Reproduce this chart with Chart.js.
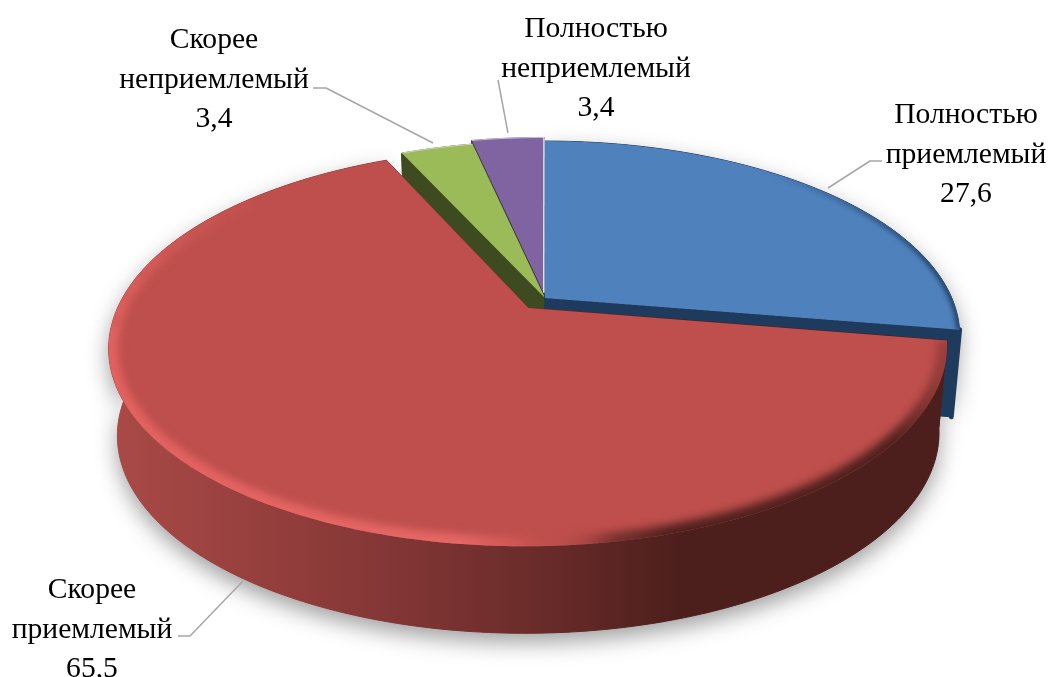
<!DOCTYPE html>
<html>
<head>
<meta charset="utf-8">
<style>
  html, body { margin: 0; padding: 0; background: #fff; overflow: hidden; }
  canvas { display: block; }
</style>
<script src="https://cdn.jsdelivr.net/npm/chart.js@4"></script>
</head>
<body>
<canvas id="pieChart" width="1048" height="677"></canvas>
<script>
var categories = ['Полностью приемлемый', 'Скорее приемлемый', 'Скорее неприемлемый', 'Полностью неприемлемый'];
var shares = [27.6, 65.5, 3.4, 3.4];

var topColors = ['#4f81bd', '#be4f4c', '#9bbb59', '#8064a2'];
var wallColors = ['#1e3a5c', null, '#3e4a20', '#3a2d52'];
var sliceOffsets = [0, 19, 0, 8];
var drawOrder = [3, 2, 0, 1];

// label placement: centre x and first baseline, then the leader line
var labelSpots = [[966, 123], [92, 598], [214, 48], [596, 37]];
var leaders = [
    [[828, 188], [870, 161], [882, 161]],
    [[243, 581], [190, 636], [178, 636]],
    [[433, 143], [326, 88], [313, 88]],
    [[508, 133], [498, 80]]
];

// tilt of the pie
var viewX = 1.41, viewY = 0.65, persp = 0.195, thick = 87, taper = 0.02;

function project(arc, u, v, z) {
    var d = 1 - persp * v;
    var r = arc.outerRadius;
    return {
        x: arc.x + r * viewX * u / d * (1 - taper * z),
        y: arc.y + r * viewY * v / d + thick * z
    };
}

function shift(arc) {
    var mid = (arc.startAngle + arc.endAngle) / 2;
    var k = arc.options.offset / arc.outerRadius;
    return { u: Math.cos(mid) * k, v: Math.sin(mid) * k };
}

function rimPoints(arc, z, from, to) {
    var s = shift(arc), pts = [];
    var a0 = from === undefined ? arc.startAngle : from;
    var a1 = to === undefined ? arc.endAngle : to;
    var n = Math.max(4, Math.ceil((a1 - a0) * 60));
    for (var i = 0; i <= n; i++) {
        var a = a0 + (a1 - a0) * i / n;
        pts.push(project(arc, Math.cos(a) + s.u, Math.sin(a) + s.v, z));
    }
    return pts;
}

function trace(ctx, pts) {
    ctx.beginPath();
    pts.forEach(function(p, i) {
        if (i === 0) ctx.moveTo(p.x, p.y); else ctx.lineTo(p.x, p.y);
    });
}

function outerWall(arc) {
    return rimPoints(arc, 0).concat(rimPoints(arc, 1).reverse());
}

function cutWall(arc, angle) {
    var s = shift(arc);
    return [
        project(arc, s.u, s.v, 0),
        project(arc, Math.cos(angle) + s.u, Math.sin(angle) + s.v, 0),
        project(arc, Math.cos(angle) + s.u, Math.sin(angle) + s.v, 1),
        project(arc, s.u, s.v, 1)
    ];
}

function topFace(arc) {
    var s = shift(arc);
    return [project(arc, s.u, s.v, 0)].concat(rimPoints(arc, 0));
}

function redWallFill(ctx) {
    var g = ctx.createLinearGradient(110, 0, 945, 0);
    g.addColorStop(0, '#aa4a47');
    g.addColorStop(0.22, '#913d3b');
    g.addColorStop(0.36, '#7f3534');
    g.addColorStop(0.55, '#642927');
    g.addColorStop(0.68, '#4d1f1c');
    g.addColorStop(1, '#4c1f1c');
    return g;
}

function drawBevel(ctx, arc, stroke, width, blur, from, to, alpha) {
    ctx.save();
    trace(ctx, topFace(arc));
    ctx.closePath();
    ctx.clip();
    ctx.filter = 'blur(' + blur + 'px)';
    ctx.globalAlpha = alpha === undefined ? 1 : alpha;
    ctx.strokeStyle = stroke;
    ctx.lineWidth = width;
    trace(ctx, rimPoints(arc, 0, from, to));
    ctx.stroke();
    ctx.restore();
}

var pie3d = {
    id: 'pie3d',
    beforeDatasetDraw: function(chart) {
        var ctx = chart.ctx;
        var arcs = chart.getDatasetMeta(0).data;

        // soft ground shadow under the two big slices
        ctx.save();
        ctx.shadowColor = 'rgba(0,0,0,0.38)';
        ctx.shadowBlur = 22;
        ctx.shadowOffsetY = 9;
        ctx.fillStyle = '#888';
        [0, 1].forEach(function(i) {
            trace(ctx, outerWall(arcs[i]));
            ctx.closePath();
            ctx.fill();
        });
        ctx.restore();

        drawOrder.forEach(function(i) {
            var arc = arcs[i];
            var fill = wallColors[i] || redWallFill(ctx);
            ctx.fillStyle = fill;
            ctx.strokeStyle = fill;
            ctx.lineWidth = 1;
            ctx.lineJoin = 'round';
            [cutWall(arc, arc.startAngle), cutWall(arc, arc.endAngle), outerWall(arc)].forEach(function(w) {
                trace(ctx, w);
                ctx.closePath();
                ctx.fill();
                ctx.stroke();
            });
            if (i === 0) {
                // rounded corner where the blue wall ends on the right
                var topEnd = rimPoints(arc, 0, arc.endAngle - 0.02);
                ctx.lineWidth = 5;
                ctx.lineCap = 'round';
                trace(ctx, [topEnd[topEnd.length - 1]].concat(rimPoints(arc, 1, arc.endAngle - 0.12).reverse()));
                ctx.stroke();
                ctx.lineCap = 'butt';
            }

            trace(ctx, topFace(arc));
            ctx.closePath();
            ctx.fillStyle = topColors[i];
            ctx.fill();

            if (i === 0) {
                var b = ctx.createLinearGradient(760, 0, 940, 0);
                b.addColorStop(0, 'rgba(22,48,80,0)');
                b.addColorStop(1, 'rgba(22,48,80,0.7)');
                drawBevel(ctx, arc, b, 7, 2, arc.startAngle, arc.endAngle);
            }
            if (i === 1) {
                var g = ctx.createLinearGradient(110, 0, 945, 0);
                g.addColorStop(0, 'rgba(226,98,96,1)');
                g.addColorStop(0.42, 'rgba(230,104,102,1)');
                g.addColorStop(0.49, 'rgba(212,90,86,0.7)');
                g.addColorStop(0.53, 'rgba(190,79,76,0)');
                g.addColorStop(0.6, 'rgba(70,28,25,0.55)');
                g.addColorStop(0.67, 'rgba(70,28,25,0.9)');
                g.addColorStop(0.94, 'rgba(70,28,25,0.9)');
                g.addColorStop(1, 'rgba(70,28,25,0.3)');
                drawBevel(ctx, arc, g, 19, 4, arc.startAngle, Math.PI * 0.98);
                // the highlight dies out towards the back of the pie
                for (var k = 0; k < 6; k++) {
                    var from = Math.PI * (0.98 + k * 0.04);
                    drawBevel(ctx, arc, g, 19, 4, from, from + Math.PI * 0.04, 0.85 - k * 0.14);
                }
            }
            if (i === 2 || i === 3) {
                ctx.strokeStyle = 'rgba(255,255,255,0.65)';
                ctx.lineWidth = 1;
                trace(ctx, rimPoints(arc, 0));
                ctx.stroke();
            }
        });
        // white seam between purple and blue, on top of the blue face
        var seam = topFace(arcs[3]);
        trace(ctx, [seam[0], seam[seam.length - 1]]);
        ctx.strokeStyle = 'rgba(255,255,255,0.85)';
        ctx.lineWidth = 1.5;
        ctx.stroke();
        return false;
    },
    afterDraw: function(chart) {
        var ctx = chart.ctx;
        ctx.save();
        ctx.strokeStyle = '#a6a6a6';
        ctx.lineWidth = 1.5;
        leaders.forEach(function(line) {
            trace(ctx, line.map(function(p) { return { x: p[0], y: p[1] }; }));
            ctx.stroke();
        });
        ctx.fillStyle = '#000';
        ctx.font = '29.6px "Liberation Serif"';
        ctx.textAlign = 'center';
        categories.forEach(function(name, i) {
            var rows = name.split(' ').concat(String(shares[i]).replace('.', ','));
            rows.forEach(function(row, r) {
                ctx.fillText(row, labelSpots[i][0], labelSpots[i][1] + r * 39.5);
            });
        });
        ctx.restore();
    }
};

new Chart(document.getElementById('pieChart'), {
    type: 'pie',
    data: {
        labels: categories,
        datasets: [{
            data: shares,
            backgroundColor: topColors,
            borderWidth: 0,
            offset: sliceOffsets
        }]
    },
    options: {
        responsive: false,
        animation: false,
        layout: { padding: { left: 42, right: 0, top: 0, bottom: 81 } },
        plugins: { legend: { display: false }, tooltip: { enabled: false } }
    },
    plugins: [pie3d]
});
</script>
</body>
</html>
